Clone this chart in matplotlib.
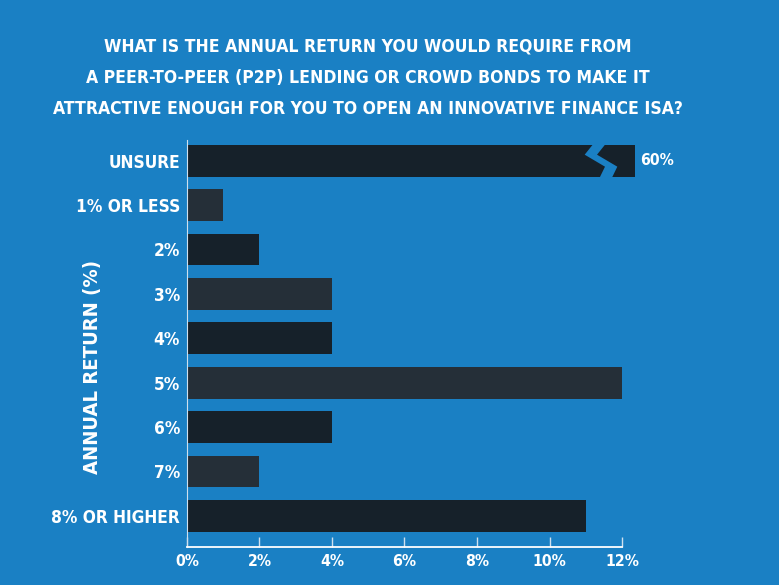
import matplotlib
matplotlib.use("Agg")
import matplotlib.pyplot as plt
from matplotlib import font_manager
from matplotlib.font_manager import FontProperties
from matplotlib.patches import Polygon

categories = ["UNSURE", "1% OR LESS", "2%", "3%", "4%", "5%", "6%", "7%", "8% OR HIGHER"]
values = [60, 1, 2, 4, 4, 12, 4, 2, 11]
x_ticks = [0, 2, 4, 6, 8, 10, 12]
x_labels = ["0%", "2%", "4%", "6%", "8%", "10%", "12%"]

title_lines = ["WHAT IS THE ANNUAL RETURN YOU WOULD REQUIRE FROM",
               "A PEER-TO-PEER (P2P) LENDING OR CROWD BONDS TO MAKE IT",
               "ATTRACTIVE ENOUGH FOR YOU TO OPEN AN INNOVATIVE FINANCE ISA?"]

BG = "#1a80c4"
DARK = "#16212a"
LIGHT = "#252f38"
AXIS_MAX = 12
BREAK_END = 12.36  # where the broken "unsure" bar stops


# look for a condensed bold face, otherwise the narrowest usual bold one
def pick_font():
    narrow = []
    for f in font_manager.fontManager.ttflist:
        tag = (f.name + " " + f.fname + " " + str(f.stretch)).lower()
        w = f.weight if isinstance(f.weight, int) else 400
        if ("condensed" in tag or "narrow" in tag) and w >= 600 and "extra" not in tag and "ultra" not in tag:
            narrow.append(f)
    if narrow:
        narrow.sort(key=lambda f: abs((f.weight if isinstance(f.weight, int) else 400) - 700))
        return FontProperties(fname=narrow[0].fname)
    for name in ["Roboto", "Liberation Sans", "DejaVu Sans"]:
        try:
            path = font_manager.findfont(FontProperties(family=name, weight="bold"), fallback_to_default=False)
            return FontProperties(fname=path)
        except Exception:
            pass
    return FontProperties(weight="bold")


FONT = pick_font()


def fp(size):
    p = FONT.copy()
    p.set_size(size)
    return p


fig = plt.figure(figsize=(7.79, 5.85), dpi=100, facecolor=BG)
ax = fig.add_axes([0.240, 0.065, 0.5585, 0.696], facecolor=BG)

ypos = list(range(len(categories)))
colors = [DARK if i % 2 == 0 else LIGHT for i in ypos]
drawn = [min(v, BREAK_END) if v > AXIS_MAX else v for v in values]
ax.barh(ypos, drawn, height=0.72, color=colors, clip_on=False, zorder=2)

# break mark and label on the bar that runs off the scale
value_texts = []
for i, v in enumerate(values):
    if v > AXIS_MAX:
        hw = 0.17
        cx = [BREAK_END - 0.99, BREAK_END - 1.22, BREAK_END - 0.66, BREAK_END - 0.80]
        cy = [i - 0.37, i - 0.135, i + 0.135, i + 0.37]
        pts = [(x - hw, y) for x, y in zip(cx, cy)] + [(x + hw, y) for x, y in zip(cx[::-1], cy[::-1])]
        ax.add_patch(Polygon(pts, closed=True, color=BG, zorder=3, clip_on=False, lw=0))
        value_texts.append(ax.text(BREAK_END + 0.13, i, f"{v}%", color="white",
                                   fontproperties=fp(16), va="center", ha="left"))

ax.set_xlim(0, AXIS_MAX)
ax.set_ylim(8.7, -0.47)
ax.set_yticks(ypos)
ax.set_yticklabels(categories, color="white", fontproperties=fp(16))
ax.set_xticks(x_ticks)
ax.set_xticklabels(x_labels, color="white", fontproperties=fp(16))
ax.tick_params(axis="y", length=0, pad=5)
ax.tick_params(axis="x", direction="in", length=7, width=1, color="#cfe0ee", pad=5)

for s in ["top", "right"]:
    ax.spines[s].set_visible(False)
ax.spines["left"].set_color("#cfe0ee")
ax.spines["left"].set_linewidth(0.8)
ax.spines["bottom"].set_color("white")
ax.spines["bottom"].set_linewidth(1.3)

ylab = ax.set_ylabel("ANNUAL RETURN (%)", color="white", fontproperties=fp(20))
ylab.set_va("center")
ax.yaxis.set_label_coords(-0.218, 0.442)

title_texts = []
for line, ypx in zip(title_lines, [46, 78, 109]):
    title_texts.append(fig.text(0.472, 1 - ypx / 585, line, ha="center", va="center",
                                color="white", fontproperties=fp(16)))

# fit font sizes to the widths seen in the chart
fig.canvas.draw()
r = fig.canvas.get_renderer()


def fit(texts, target, cap, vertical=False):
    ext = [t.get_window_extent(r) for t in texts]
    widest = max(e.height if vertical else e.width for e in ext)
    size = min(texts[0].get_fontsize() * target / widest, cap)
    for t in texts:
        t.set_fontsize(size)


fit(title_texts, 632, 22)
fit(ax.get_yticklabels(), 130, 19)
fit(ax.get_xticklabels(), 34, 19)
fit(value_texts, 34, 19)
fit([ylab], 215, 26, vertical=True)

fig.savefig("out.png", dpi=100, facecolor=BG)
